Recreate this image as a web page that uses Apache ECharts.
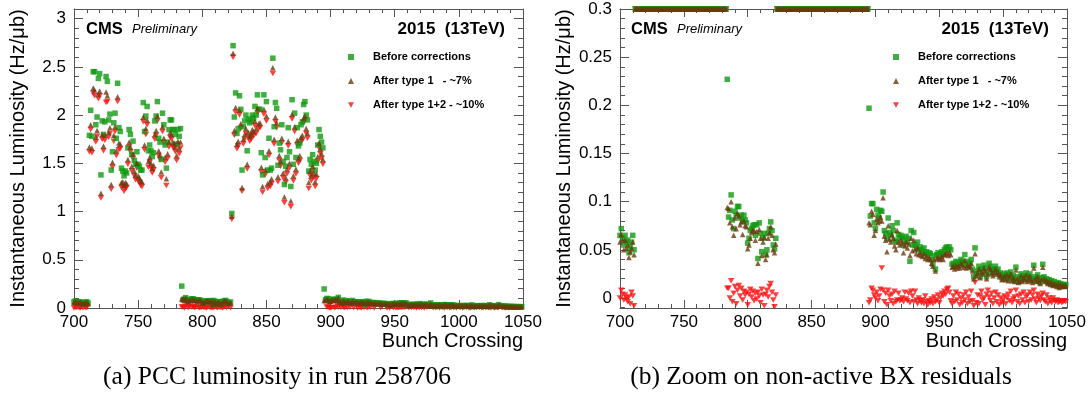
<!DOCTYPE html>
<html>
<head>
<meta charset="utf-8">
<script src="https://cdn.jsdelivr.net/npm/echarts@6/dist/echarts.min.js"></script>
<style>
  html, body { margin: 0; padding: 0; background: #fff; }
  #chart { width: 1091px; height: 398px; }
</style>
</head>
<body>
<div id="chart"></div>
<script>
// bunch crossings run from firstBX, one value per BX
const firstBX = 700

// before corrections (green squares)
const before = [
  // 700-711
  0.065, 0.072, 0.062, 0.055, 0.065, 0.058, 0.06, 0.047, 0.053, 0.058, 0.065, 0.05,
  // 712-783 first train
  1.79, 2.05, 1.78, 2.45, 2.45, 1.9, 1.98, 2.38, 2.43, 1.38, 1.94, 1.8, 1.93, 2.4, 2.35, 1.95, 2.01, 1.43,
  1.62, 1.92, 2.02, 1.76, 2.33, 1.87, 1.83, 1.45, 1.42, 1.37, 1.42, 1.4, 1.66, 1.85, 1.8, 1.59, 1.73, 1.53,
  1.49, 1.62, 1.49, 1.47, 1.43, 1.43, 2.13, 1.83, 1.99, 2.09, 1.63, 1.69, 1.63, 1.57, 1.61, 1.94, 1.99, 2.14,
  1.76, 1.72, 1.54, 2.02, 1.9, 1.69, 1.45, 1.72, 1.85, 1.95, 1.95, 1.85, 1.85, 1.8, 1.7, 1.85, 1.78, 1.86,
  // 784
  0.227,
  // 785-822
  0.084, 0.091, 0.107, 0.081, 0.072, 0.09, 0.086, 0.095, 0.095, 0.083, 0.086, 0.08, 0.086, 0.081, 0.078,
  0.057, 0.062, 0.07, 0.072, 0.075, 0.076, 0.065, 0.076, 0.041, 0.078, 0.067, 0.048, 0.062, 0.067, 0.045,
  0.05, 0.067, 0.072, 0.079, 0.07, 0.055, 0.051, 0.062,
  // 823-894 second train
  0.98, 2.72, 1.98, 2.23, 1.81, 1.86, 2.2, 2.06, 1.43, 1.88, 1.94, 2.0, 1.63, 1.96, 1.92, 1.94, 2.0, 1.97,
  2.09, 2.0, 2.21, 2.06, 2.06, 1.61, 1.38, 2.21, 1.56, 2.14, 1.43, 1.76, 1.43, 1.45, 2.59, 1.88, 2.13, 2.07,
  1.48, 1.71, 1.64, 1.9, 1.52, 1.28, 1.47, 1.56, 1.87, 1.62, 1.26, 2.16, 1.49, 2.02, 1.56, 1.87, 1.68, 1.71,
  1.9, 1.93, 2.11, 2.14, 2.0, 1.95, 1.42, 1.54, 1.49, 1.59, 1.52, 1.43, 1.5, 1.69, 1.85, 1.78, 1.72, 1.66,
  // 895-1049
  0.197, 0.085, 0.098, 0.098, 0.078, 0.072, 0.092, 0.086, 0.083, 0.091, 0.09, 0.11, 0.07, 0.067, 0.062,
  0.083, 0.068, 0.065, 0.075, 0.07, 0.06, 0.058, 0.078, 0.066, 0.062, 0.065, 0.063, 0.055, 0.06, 0.064,
  0.058, 0.062, 0.038, 0.07, 0.055, 0.068, 0.055, 0.052, 0.058, 0.05, 0.053, 0.05, 0.048, 0.052, 0.046,
  0.048, 0.045, 0.047, 0.046, 0.04, 0.035, 0.044, 0.03, 0.045, 0.047, 0.044, 0.046, 0.048, 0.045, 0.05,
  0.052, 0.053, 0.05, 0.053, 0.05, 0.035, 0.036, 0.033, 0.038, 0.034, 0.037, 0.035, 0.04, 0.038, 0.036,
  0.045, 0.034, 0.038, 0.035, 0.036, 0.04, 0.03, 0.022, 0.052, 0.025, 0.028, 0.033, 0.022, 0.03, 0.027,
  0.034, 0.031, 0.022, 0.027, 0.036, 0.033, 0.029, 0.025, 0.03, 0.033, 0.028, 0.03, 0.024, 0.026, 0.021,
  0.022, 0.025, 0.021, 0.026, 0.02, 0.024, 0.027, 0.02, 0.023, 0.018, 0.032, 0.022, 0.017, 0.02, 0.025,
  0.019, 0.023, 0.021, 0.026, 0.019, 0.022, 0.025, 0.02, 0.018, 0.034, 0.022, 0.018, 0.024, 0.02, 0.016,
  0.021, 0.035, 0.022, 0.018, 0.02, 0.016, 0.019, 0.015, 0.018, 0.014, 0.017, 0.015, 0.013, 0.016, 0.012,
  0.015, 0.013, 0.014, 0.013, 0.014,
]

// after type 1 correction (brown triangles)
const type1 = [
  0.058, 0.066, 0.06, 0.05, 0.06, 0.052, 0.055, 0.042, 0.048, 0.052, 0.058, 0.045,
  1.67, 1.9, 1.66, 2.28, 2.26, 1.77, 1.84, 2.22, 2.25, 1.19, 1.8, 1.68, 1.79, 2.24, 2.2, 1.82, 1.87, 1.28,
  1.51, 1.79, 1.88, 1.63, 2.19, 1.71, 1.7, 1.3, 1.31, 1.27, 1.3, 1.29, 1.54, 1.72, 1.67, 1.47, 1.6, 1.42,
  1.38, 1.5, 1.37, 1.35, 1.32, 1.31, 1.98, 1.69, 1.86, 1.95, 1.52, 1.56, 1.5, 1.45, 1.48, 1.8, 1.84, 1.99,
  1.63, 1.59, 1.41, 1.88, 1.76, 1.56, 1.34, 1.6, 1.72, 1.82, 1.8, 1.72, 1.71, 1.67, 1.58, 1.73, 1.65, 1.72,
  0.094,
  0.093, 0.078, 0.1, 0.074, 0.065, 0.083, 0.072, 0.088, 0.085, 0.076, 0.079, 0.066, 0.08, 0.075, 0.074,
  0.051, 0.055, 0.062, 0.068, 0.07, 0.07, 0.06, 0.069, 0.036, 0.071, 0.062, 0.044, 0.058, 0.063, 0.04,
  0.045, 0.062, 0.068, 0.074, 0.065, 0.05, 0.047, 0.056,
  0.95, 2.64, 1.84, 2.08, 1.7, 1.73, 2.05, 1.91, 1.25, 1.75, 1.8, 1.86, 1.49, 1.82, 1.78, 1.8, 1.85, 1.83,
  1.94, 1.86, 2.07, 1.91, 1.92, 1.46, 1.26, 2.06, 1.43, 1.99, 1.29, 1.63, 1.31, 1.34, 2.49, 1.75, 1.98, 1.92,
  1.36, 1.58, 1.52, 1.76, 1.4, 1.15, 1.35, 1.44, 1.73, 1.5, 1.11, 2.01, 1.37, 1.88, 1.44, 1.74, 1.55, 1.58,
  1.77, 1.79, 1.97, 1.99, 1.86, 1.81, 1.3, 1.42, 1.37, 1.47, 1.4, 1.31, 1.39, 1.57, 1.71, 1.65, 1.6, 1.54,
  0.078, 0.076, 0.09, 0.087, 0.065, 0.07, 0.082, 0.078, 0.08, 0.084, 0.08, 0.104, 0.064, 0.06, 0.048,
  0.075, 0.061, 0.058, 0.066, 0.062, 0.054, 0.05, 0.07, 0.058, 0.055, 0.06, 0.057, 0.047, 0.054, 0.058,
  0.052, 0.056, 0.044, 0.062, 0.049, 0.06, 0.05, 0.046, 0.052, 0.045, 0.047, 0.044, 0.043, 0.046, 0.041,
  0.043, 0.04, 0.042, 0.04, 0.036, 0.033, 0.04, 0.028, 0.041, 0.042, 0.04, 0.041, 0.043, 0.04, 0.045,
  0.046, 0.047, 0.044, 0.047, 0.045, 0.032, 0.033, 0.03, 0.034, 0.031, 0.033, 0.031, 0.036, 0.034, 0.032,
  0.039, 0.031, 0.034, 0.032, 0.033, 0.036, 0.028, 0.02, 0.046, 0.023, 0.026, 0.03, 0.021, 0.027, 0.025,
  0.031, 0.028, 0.02, 0.025, 0.032, 0.03, 0.026, 0.023, 0.027, 0.03, 0.025, 0.027, 0.022, 0.024, 0.019,
  0.02, 0.023, 0.019, 0.024, 0.018, 0.022, 0.025, 0.018, 0.021, 0.017, 0.029, 0.02, 0.016, 0.018, 0.023,
  0.017, 0.021, 0.019, 0.024, 0.017, 0.02, 0.023, 0.018, 0.016, 0.031, 0.02, 0.017, 0.022, 0.018, 0.015,
  0.019, 0.032, 0.02, 0.017, 0.018, 0.015, 0.017, 0.014, 0.016, 0.013, 0.015, 0.014, 0.012, 0.015, 0.011,
  0.014, 0.012, 0.013, 0.012, 0.013,
]

// after type 1+2 corrections (red inverted triangles)
const type12 = [
  0.0, 0.008, 0.004, -0.002, 0.003, 0.0, -0.004, 0.001, -0.006, 0.006, 0.002, -0.008,
  1.62, 1.85, 1.61, 2.23, 2.2, 1.72, 1.78, 2.17, 2.2, 1.14, 1.75, 1.63, 1.74, 2.13, 2.14, 1.77, 1.81, 1.23,
  1.46, 1.73, 1.83, 1.58, 2.14, 1.64, 1.65, 1.25, 1.26, 1.21, 1.24, 1.25, 1.49, 1.67, 1.62, 1.42, 1.55, 1.37,
  1.33, 1.45, 1.32, 1.3, 1.27, 1.26, 1.93, 1.64, 1.8, 1.9, 1.46, 1.51, 1.45, 1.4, 1.43, 1.75, 1.79, 1.94,
  1.58, 1.54, 1.35, 1.83, 1.71, 1.51, 1.27, 1.55, 1.67, 1.77, 1.75, 1.67, 1.66, 1.62, 1.53, 1.68, 1.6, 1.66,
  0.01,
  0.01, 0.0, 0.018, -0.004, 0.005, 0.012, -0.006, 0.008, 0.013, 0.002, 0.01, -0.002, 0.007, 0.003, 0.006,
  -0.007, 0.004, 0.009, 0.001, 0.007, -0.003, 0.005, -0.001, 0.006, 0.002, -0.005, 0.009, 0.003, -0.008,
  0.004, 0.008, 0.001, 0.012, 0.015, 0.006, -0.002, -0.009, 0.003,
  0.92, 2.6, 1.79, 2.03, 1.65, 1.68, 2.0, 1.86, 1.21, 1.7, 1.75, 1.81, 1.44, 1.77, 1.73, 1.75, 1.8, 1.78,
  1.89, 1.81, 2.02, 1.86, 1.87, 1.41, 1.2, 2.01, 1.38, 1.94, 1.24, 1.58, 1.26, 1.29, 2.43, 1.7, 1.93, 1.87,
  1.31, 1.53, 1.47, 1.71, 1.35, 1.09, 1.3, 1.39, 1.68, 1.45, 1.05, 1.96, 1.32, 1.83, 1.39, 1.69, 1.5, 1.53,
  1.72, 1.74, 1.92, 1.94, 1.81, 1.76, 1.24, 1.37, 1.32, 1.42, 1.35, 1.26, 1.34, 1.52, 1.66, 1.6, 1.55, 1.49,
  -0.005, -0.002, 0.01, 0.008, 0.003, 0.0, 0.006, -0.003, 0.002, 0.009, 0.031, 0.008, -0.004, 0.005, -0.007,
  0.008, 0.002, -0.003, 0.004, -0.006, 0.007, -0.004, -0.002, 0.005, -0.003, -0.002, 0.0, -0.004, 0.006,
  -0.001, -0.003, 0.005, -0.005, 0.007, 0.002, -0.004, 0.007, -0.002, -0.006, 0.0, -0.003, -0.005, -0.002,
  -0.006, 0.002, -0.004, -0.007, -0.003, -0.005, -0.001, -0.006, 0.001, -0.004, -0.002, 0.003, -0.005, 0.0,
  0.005, 0.002, 0.007, 0.004, 0.009, 0.01, 0.006, -0.003, -0.006, 0.002, -0.004, 0.006, -0.002, 0.004,
  -0.007, 0.0, -0.005, 0.003, -0.002, 0.006, -0.006, 0.001, -0.004, 0.007, -0.003, -0.008, 0.016, -0.005,
  0.003, -0.006, 0.002, 0.007, -0.002, 0.0, -0.007, 0.004, 0.008, 0.001, -0.003, 0.005, -0.006, 0.0, 0.006,
  -0.004, 0.003, -0.007, 0.0, -0.005, -0.002, 0.002, -0.006, 0.0, 0.004, -0.003, 0.007, -0.005, -0.001,
  0.001, 0.008, -0.004, 0.002, -0.006, 0.004, -0.002, 0.006, -0.005, 0.001, 0.003, -0.004, 0.006, -0.002,
  0.003, 0.008, -0.001, -0.005, 0.004, 0.0, -0.003, 0.002, 0.005, -0.002, -0.004, 0.003, -0.006, 0.0,
  -0.003, -0.005, 0.0, -0.003, -0.004, -0.002, -0.005, -0.004, -0.003, -0.005, -0.004, -0.003, -0.004,
]

const seriesNames = ['Before corrections', 'After type 1   - ~7%', 'After type 1+2 - ~10%']
const xTicks = { min: 700, max: 1050, interval: 50 }
const fullRange = { min: 0, max: 3.1 }
const zoomRange = { min: -0.0104, max: 0.3 }

const chart = echarts.init(document.getElementById('chart'))

const FONT = 'Liberation Sans'
const frameColor = '#555'
const colors = { green: '#109a10', brown: '#6b3a0e', red: '#ff0f0f' }
const downTriangle = 'path://M0,0L10,0L5,9Z'

const grids = [
  { left: 74, top: 9, width: 449, height: 299, outerBoundsMode: 'none', containLabel: false },
  { left: 620, top: 9, width: 447, height: 299, outerBoundsMode: 'none', containLabel: false },
]

function xAxes(gi) {
  const common = {
    type: 'value', gridIndex: gi, min: xTicks.min, max: xTicks.max, interval: xTicks.interval,
    axisLine: { show: true, onZero: false, lineStyle: { color: frameColor, width: 1 } },
    axisTick: { show: true, inside: true, length: 8, lineStyle: { color: frameColor } },
    minorTick: { show: true, splitNumber: 5, length: 4, lineStyle: { color: frameColor } },
    splitLine: { show: false },
  }
  return [
    {
      ...common, position: 'bottom',
      axisLabel: { fontFamily: FONT, fontSize: 17, color: '#000', margin: 6, formatter: (v) => String(v) },
    },
    { ...common, position: 'top', axisLabel: { show: false } },
  ]
}

function yAxes(gi, range, split) {
  const common = {
    type: 'value', gridIndex: gi, min: range.min, max: range.max, splitNumber: split,
    axisLine: { show: true, onZero: false, lineStyle: { color: frameColor, width: 1 } },
    axisTick: { show: true, inside: true, length: 9, lineStyle: { color: frameColor } },
    minorTick: { show: true, splitNumber: 5, length: 5, lineStyle: { color: frameColor } },
    splitLine: { show: false },
  }
  return [
    {
      ...common, position: 'left',
      axisLabel: { fontFamily: FONT, fontSize: 17, color: '#000', margin: 8, showMinLabel: gi === 0, showMaxLabel: gi === 1 },
      name: 'Instantaneous Luminosity (Hz/μb)', nameLocation: 'middle', nameGap: 46,
      nameTextStyle: { fontFamily: FONT, fontSize: 20, color: '#000' },
    },
    { ...common, position: 'right', axisLabel: { show: false } },
  ]
}

function toPoints(values, cap) {
  return values.map((v, i) => [firstBX + i, cap === undefined ? v : Math.min(v, cap)])
}

function panelSeries(gi, cap) {
  const base = { type: 'scatter', xAxisIndex: gi * 2, yAxisIndex: gi * 2, silent: true, animation: false }
  return [
    { ...base, name: seriesNames[2], symbol: downTriangle, symbolSize: [6.5, 5.5], itemStyle: { color: colors.red }, data: toPoints(type12, cap) },
    { ...base, name: seriesNames[0], symbol: 'rect', symbolSize: 5.5, itemStyle: { color: colors.green }, data: toPoints(before, cap) },
    { ...base, name: seriesNames[1], symbol: 'triangle', symbolSize: 5.5, itemStyle: { color: colors.brown }, data: toPoints(type1, cap) },
  ]
}

function legendAt(left) {
  return {
    left: left, top: 50, orient: 'vertical', padding: 0, itemGap: 10,
    itemWidth: 6, itemHeight: 6, selectedMode: false,
    data: seriesNames,
    textStyle: { fontFamily: FONT, fontSize: 11, fontWeight: 'bold', color: '#000', lineHeight: 14, padding: [0, 0, 0, 14] },
  }
}

function label(x, y, text, size, weight, style, align) {
  return {
    type: 'text', x: x, y: y,
    style: { text: text, fontFamily: FONT, fontSize: size, fontWeight: weight, fontStyle: style, fill: '#000', align: align, verticalAlign: 'middle' },
  }
}

const option = {
  backgroundColor: '#fff',
  animation: false,
  grid: grids,
  xAxis: [...xAxes(0), ...xAxes(1)],
  yAxis: [...yAxes(0, fullRange, 6), ...yAxes(1, zoomRange, 6)],
  legend: [legendAt(348), legendAt(893)],
  series: [...panelSeries(0), ...panelSeries(1, zoomRange.max)],
  graphic: [
    label(86, 29, 'CMS', 16.5, 'bold', 'normal', 'left'),
    label(132, 29, 'Preliminary', 13, 'normal', 'italic', 'left'),
    label(505, 29, '2015  (13TeV)', 17, 'bold', 'normal', 'right'),
    label(631, 29, 'CMS', 16.5, 'bold', 'normal', 'left'),
    label(677, 29, 'Preliminary', 13, 'normal', 'italic', 'left'),
    label(1049, 29, '2015  (13TeV)', 17, 'bold', 'normal', 'right'),
    label(523, 341, 'Bunch Crossing', 20, 'normal', 'normal', 'right'),
    label(1067, 341, 'Bunch Crossing', 20, 'normal', 'normal', 'right'),
    {
      type: 'text', x: 277, y: 377,
      style: { text: '(a) PCC luminosity in run 258706', fontFamily: 'Liberation Serif', fontSize: 25.5, fill: '#000', align: 'center', verticalAlign: 'middle' },
    },
    {
      type: 'text', x: 821, y: 377,
      style: { text: '(b) Zoom on non-active BX residuals', fontFamily: 'Liberation Serif', fontSize: 25.5, fill: '#000', align: 'center', verticalAlign: 'middle' },
    },
  ],
}

chart.setOption(option)
</script>
</body>
</html>
